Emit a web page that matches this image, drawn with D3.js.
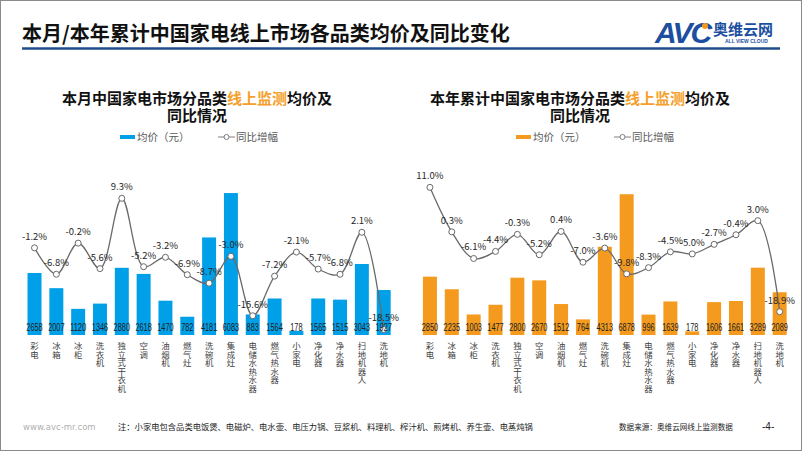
<!DOCTYPE html>
<html><head><meta charset="utf-8">
<script src="https://cdn.jsdelivr.net/npm/d3@7"></script>
<style>body{margin:0;background:#fff}svg{display:block}</style>
</head><body><svg id="c" width="802" height="451"></svg>
<script>
const categories = ["彩电","冰箱","冰柜","洗衣机","独立式干衣机","空调","油烟机","燃气灶","洗碗机","集成灶","电储水热水器","燃气热水器","小家电","净化器","净水器","扫地机器人","洗地机"];
const monthPrice = [2658,2007,1120,1346,2880,2618,1470,782,4181,6083,883,1564,178,1565,1515,3043,1927];
const monthYoY = [-1.2,-6.8,-0.2,-5.6,9.3,-5.2,-3.2,-6.9,-8.7,-3.0,-15.6,-7.2,-2.1,-5.7,-6.8,2.1,-18.5];
const ytdPrice = [2850,2235,1003,1477,2800,2670,1512,764,4313,6878,996,1639,178,1606,1661,3289,2089];
const ytdYoY = [11.0,0.3,-6.1,-4.4,-0.3,-5.2,0.4,-7.0,-3.6,-9.8,-8.3,-4.5,-5.0,-2.7,-0.4,3.0,-18.9];
const legendLabels = ["均价（元）","同比增幅"];
const mainTitle = "本月/本年累计中国家电线上市场各品类均价及同比变化";
const subTitles = [["本月中国家电市场分品类","线上监测","均价及"],["本年累计中国家电市场分品类","线上监测","均价及"]];
const subTitle2 = "同比情况";

const svg = d3.select("#c");
const CJK = "'Noto Sans CJK SC','Noto Sans',sans-serif";

// frame
svg.append("rect").attr("x",0.5).attr("y",0.5).attr("width",801).attr("height",450).attr("fill","none").attr("stroke","#8a8a8a");

// title
svg.append("text").attr("x",22).attr("y",41).attr("font-family",CJK).attr("font-weight","bold")
  .attr("font-size",20).attr("fill","#111").text(mainTitle);
svg.append("line").attr("x1",22).attr("x2",780).attr("y1",48.5).attr("y2",48.5).attr("stroke","#1F4E8C").attr("stroke-width",2.5);

// logo
const logo = svg.append("g");
logo.append("text").attr("x",655).attr("y",43).attr("font-family","'Liberation Sans',sans-serif").attr("font-weight","bold")
  .attr("font-style","italic").attr("font-size",30).attr("fill","#1C4FA0").attr("letter-spacing",-2).text("AVC");
logo.append("circle").attr("cx",705).attr("cy",26).attr("r",3).attr("fill","#F39A1F");
logo.append("text").attr("x",713).attr("y",35).attr("font-family",CJK).attr("font-weight","bold")
  .attr("font-size",15).attr("fill","#1C4FA0").text("奥维云网");
logo.append("text").attr("x",725).attr("y",43).attr("font-family","'Liberation Sans',sans-serif").attr("font-weight","bold")
  .attr("font-size",5).attr("fill","#1C4FA0").text("ALL VIEW CLOUD");

function drawChart(cfg){
  const x = d3.scaleBand().domain(categories).range(cfg.xr).paddingInner(0.36).paddingOuter(0.18);
  const y = d3.scaleLinear().domain([0,cfg.ymax]).range([335,160]);
  const yp = d3.scaleLinear().domain([-20,12]).range(cfg.ypr);
  const g = svg.append("g");
  const bw = x.bandwidth();
  const cx = d => x(d)+bw/2;

  // subtitle
  const st = g.append("text").attr("x",cfg.tx).attr("y",104).attr("text-anchor","middle")
    .attr("font-family",CJK).attr("font-weight","bold").attr("font-size",15).attr("fill","#111");
  st.append("tspan").text(cfg.sub[0]);
  st.append("tspan").attr("fill","#F5A02A").text(cfg.sub[1]);
  st.append("tspan").text(cfg.sub[2]);
  g.append("text").attr("x",cfg.tx).attr("y",121).attr("text-anchor","middle")
    .attr("font-family",CJK).attr("font-weight","bold").attr("font-size",15).attr("fill","#111").text(subTitle2);

  // legend
  const lg = g.append("g").attr("transform",`translate(${cfg.lx},137)`);
  lg.append("rect").attr("x",0).attr("y",-2).attr("width",15).attr("height",4).attr("fill",cfg.color);
  lg.append("text").attr("x",17).attr("y",4).attr("font-family",CJK).attr("font-size",10.5).attr("fill","#595959").text(legendLabels[0]);
  lg.append("line").attr("x1",98).attr("x2",115).attr("y1",0).attr("y2",0).attr("stroke","#7f7f7f").attr("stroke-width",1);
  lg.append("circle").attr("cx",106.5).attr("cy",0).attr("r",2.5).attr("fill","#fff").attr("stroke","#7f7f7f");
  lg.append("text").attr("x",116).attr("y",4).attr("font-family",CJK).attr("font-size",10.5).attr("fill","#595959").text(legendLabels[1]);

  // bars
  g.selectAll("rect.bar").data(categories).join("rect").attr("class","bar")
    .attr("x",d=>x(d)).attr("width",bw)
    .attr("y",(d,i)=>y(cfg.price[i])).attr("height",(d,i)=>y(0)-y(cfg.price[i]))
    .attr("fill",cfg.color);

  // line
  const line = d3.line().x((d,i)=>cx(categories[i])).y(d=>yp(d)).curve(d3.curveCatmullRom.alpha(0.5));
  g.append("path").attr("d",line(cfg.yoy)).attr("fill","none").attr("stroke","#6a6a6a").attr("stroke-width",1.3);
  g.selectAll("circle.pt").data(cfg.yoy).join("circle").attr("class","pt")
    .attr("cx",(d,i)=>cx(categories[i])).attr("cy",d=>yp(d)).attr("r",3)
    .attr("fill","#fff").attr("stroke","#6a6a6a").attr("stroke-width",1);

  // yoy labels
  g.selectAll("text.pl").data(cfg.yoy).join("text").attr("class","pl")
    .attr("x",(d,i)=>cx(categories[i])).attr("y",d=>yp(d)-8)
    .attr("text-anchor","middle").attr("font-family",CJK).attr("font-size",9.5).attr("fill","#262626")
    .text(d=>d3.format(".1f")(d).replace("−","-")+"%");

  // value labels (condensed)
  g.selectAll("text.vl").data(cfg.price).join("text").attr("class","vl")
    .attr("x",(d,i)=>cx(categories[i])).attr("y",331)
    .attr("text-anchor","middle").attr("font-family","'Liberation Sans',sans-serif")
    .attr("font-size",10).attr("fill","#222")
    .attr("textLength",d=>String(d).length*4.1).attr("lengthAdjust","spacingAndGlyphs")
    .text(d=>d);

  // axis labels: one stacked character per row
  categories.forEach(c=>{
    Array.from(c).forEach((ch,j)=>{
      g.append("text").attr("x",cx(c)).attr("y",349+j*8.6).attr("text-anchor","middle").attr("font-family",CJK)
        .attr("font-size",8.4).attr("fill","#404040").text(ch);
    });
  });
}

drawChart({xr:[23.6,394.6], ymax:7500, ypr:[336.5,185.6], price:monthPrice, yoy:monthYoY, color:"#00A0E9",
  sub:subTitles[0], tx:197, lx:120});
drawChart({xr:[419,790.6], ymax:8550, ypr:[316.3,183.2], price:ytdPrice, yoy:ytdYoY, color:"#F39A1F",
  sub:subTitles[1], tx:580, lx:516});

// footer
svg.append("text").attr("x",23).attr("y",430).attr("font-family","'DejaVu Sans',sans-serif").attr("font-size",8.5)
  .attr("fill","#b0b0b0").text("www.avc-mr.com");
svg.append("text").attr("x",118).attr("y",430).attr("font-family",CJK).attr("font-size",8.3)
  .attr("fill","#222").text("注：小家电包含品类电饭煲、电磁炉、电水壶、电压力锅、豆浆机、料理机、榨汁机、煎烤机、养生壶、电蒸炖锅");
svg.append("text").attr("x",619).attr("y",430).attr("font-family",CJK).attr("font-size",7.6)
  .attr("fill","#222").text("数据来源：奥维云网线上监测数据");
svg.append("text").attr("x",762).attr("y",430).attr("font-family","'Liberation Sans',sans-serif").attr("font-size",10)
  .attr("fill","#222").text("-4-");
</script></body></html>
